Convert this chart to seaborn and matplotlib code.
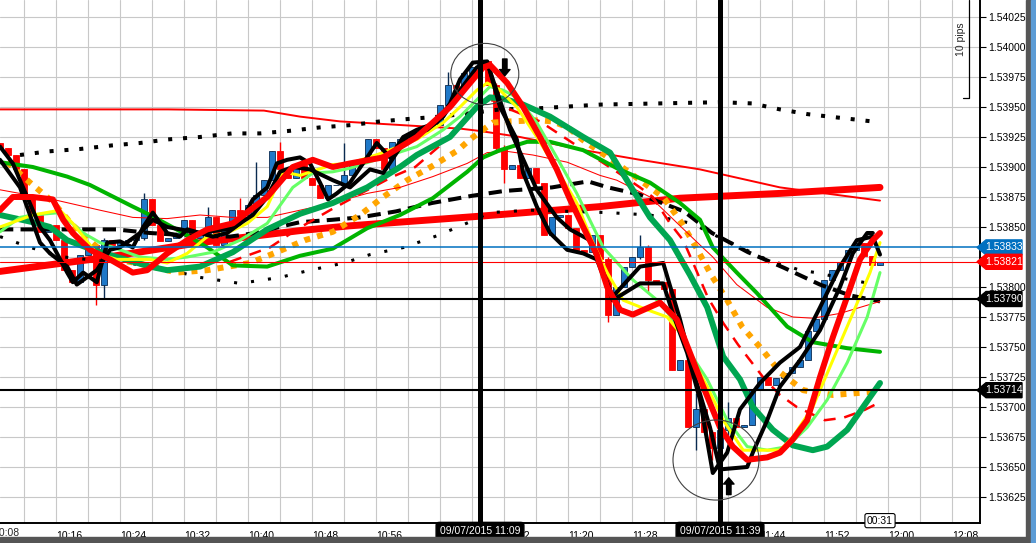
import numpy as np
import matplotlib
matplotlib.use("Agg")
import matplotlib.pyplot as plt
import seaborn as sns
from matplotlib.patches import Ellipse, Polygon, Rectangle

# time axis: minutes after 10:00, one candle per minute starting 10:09
first_bar = 9
first_open = 1.53920

close = [1.53916, 1.53910, 1.53898, 1.53873, 1.53860, 1.53846, 1.53852, 1.53839, 1.53814, 1.53804,
         1.53827, 1.53835, 1.53802, 1.53839, 1.53835, 1.53838, 1.53839, 1.53841, 1.53873, 1.53852,
         1.53838, 1.53841, 1.53845, 1.53856, 1.53841, 1.53845, 1.53858, 1.53835, 1.53849, 1.53864,
         1.53860, 1.53868, 1.53877, 1.53889, 1.53913, 1.53898, 1.53891, 1.53902, 1.53891, 1.53885,
         1.53874, 1.53885, 1.53885, 1.53893, 1.53902, 1.53906, 1.53923, 1.53916, 1.53898, 1.53921,
         1.53923, 1.53927, 1.53929, 1.53933, 1.53935, 1.53952, 1.53968, 1.53966, 1.53978, 1.53983,
         1.53988, 1.53968, 1.53916, 1.53898, 1.53902, 1.53891, 1.53899, 1.53887, 1.53843, 1.53858,
         1.53860, 1.53849, 1.53831, 1.53829, 1.53843, 1.53823, 1.53777, 1.53800, 1.53817, 1.53825,
         1.53833, 1.53806, 1.53804, 1.53798, 1.53731, 1.53739, 1.53683, 1.53698, 1.53679, 1.53666,
         1.53681, 1.53691, 1.53683, 1.53685, 1.53714, 1.53725, 1.53718, 1.53724, 1.53728, 1.53733,
         1.53739, 1.53763, 1.53773, 1.53806, 1.53814, 1.53821, 1.53831, 1.53837, 1.53826, 1.53818,
         1.53821]

# candles with visible wicks: bar index -> (high, low)
wicks = {12: (1.53837, 1.53785), 13: (1.53841, 1.53791), 18: (1.53878, 1.53839),
         26: (1.53867, 1.53843), 30: (1.53874, 1.53857), 32: (1.53904, 1.53866),
         35: (1.53921, 1.53896), 43: (1.53920, 1.53883), 56: (1.53979, 1.53950),
         62: (1.53970, 1.53912), 63: (1.53918, 1.53887), 76: (1.53825, 1.53771),
         80: (1.53843, 1.53823), 81: (1.53835, 1.53796), 87: (1.53712, 1.53664),
         89: (1.53681, 1.53656), 91: (1.53704, 1.53675)}

red_top_t = [9, 16.5, 30, 42, 46.5, 51.5, 59, 66.5, 69, 74, 82, 89, 96.5, 106.5, 119]
red_top_p = [1.53948, 1.53948, 1.53948, 1.53947, 1.53942, 1.53938, 1.53935, 1.53932, 1.53930,
             1.53925, 1.53914, 1.53906, 1.53898, 1.53883, 1.53872]

trend_t = [9, 21.5, 34, 46.5, 52.75, 69, 84, 94, 106.5, 119]
trend_p = [1.53813, 1.53824, 1.53837, 1.53847, 1.53851, 1.53859, 1.53867, 1.53874, 1.53878, 1.53883]

big_dot_t = [11.5, 15, 19, 23, 26.5, 30, 34, 38, 41.5, 45, 49, 53, 56.5, 60, 64, 68, 71.5, 76.5,
             84, 91.5, 99, 103, 106.5, 110, 114, 118]
big_dot_p = [1.53910, 1.53913, 1.53915, 1.53918, 1.53920, 1.53923, 1.53925, 1.53928, 1.53928,
             1.53930, 1.53933, 1.53935, 1.53938, 1.53940, 1.53942, 1.53945, 1.53948, 1.53949,
             1.53952, 1.53953, 1.53954, 1.53953, 1.53948, 1.53944, 1.53941, 1.53938]

dash_t = [9, 16.5, 23.5, 27.75, 32.5, 37.75, 41, 44.5, 46.5, 50.5, 54, 58.5, 63, 68, 72, 78,
          82.5, 85, 89, 94.5, 98, 102.5, 107, 111.5, 115.25, 119]
dash_p = [1.53848, 1.53848, 1.53848, 1.53845, 1.53843, 1.53842, 1.53845, 1.53851, 1.53854,
          1.53856, 1.53858, 1.53863, 1.53870, 1.53876, 1.53880, 1.53883, 1.53888, 1.53883,
          1.53877, 1.53863, 1.53845, 1.53829, 1.53816, 1.53802, 1.53793, 1.53788]

small_dot_t = [9, 12.75, 17, 24, 28, 34, 39, 44, 47.75, 52, 55.25, 59.5, 63.75, 68, 70.25,
               75.25, 85, 90.25, 95.5, 99, 104.5, 109, 111, 115.25, 118.5]
small_dot_p = [1.53842, 1.53833, 1.53825, 1.53820, 1.53818, 1.53808, 1.53803, 1.53808, 1.53814,
               1.53820, 1.53827, 1.53833, 1.53843, 1.53855, 1.53862, 1.53864, 1.53862, 1.53860,
               1.53853, 1.53841, 1.53824, 1.53814, 1.53812, 1.53806, 1.53802]

orange_t = [9.9, 12.75, 15.6, 18, 21.5, 23.6, 27.5, 31.1, 34.9, 40.25, 43.6, 47.1, 50.6, 54,
            56.9, 59.9, 63.1, 66.25, 67.75, 70.6, 72.75, 76.25, 78.1, 80, 81.75, 86.1, 89,
            91.9, 94.25, 96.1, 97.9, 99.9, 101.75, 104.25, 106.5, 109.4, 113.1, 116.9, 118.6]
orange_p = [1.53904, 1.53887, 1.53871, 1.53852, 1.53831, 1.53823, 1.53818, 1.53812, 1.53814,
            1.53820, 1.53829, 1.53839, 1.53846, 1.53860, 1.53875, 1.53889, 1.53901, 1.53914,
            1.53923, 1.53937, 1.53938, 1.53939, 1.53938, 1.53933, 1.53923, 1.53903, 1.53889,
            1.53875, 1.53853, 1.53832, 1.53810, 1.53789, 1.53767, 1.53748, 1.53729, 1.53714,
            1.53710, 1.53712, 1.53713]

rdash_t = [37.75, 40.25, 42.75, 46.1, 50.25, 54.4, 58.1, 60.9, 64.9, 67.4, 69, 70.9, 72.75,
           76.5, 81.5, 86.1, 89, 90.6, 92.75, 94.4, 95.9, 97.5, 99.4, 101.25, 102.75, 104.6,
           106.5, 108.6, 112.1, 114.4, 116.9, 119]
rdash_p = [1.53821, 1.53827, 1.53833, 1.53848, 1.53864, 1.53879, 1.53892, 1.53900, 1.53923,
           1.53942, 1.53953, 1.53956, 1.53948, 1.53938, 1.53916, 1.53896, 1.53883, 1.53875,
           1.53853, 1.53839, 1.53816, 1.53791, 1.53770, 1.53752, 1.53739, 1.53723, 1.53710,
           1.53700, 1.53689, 1.53691, 1.53697, 1.53704]

thin_t = [9, 15.6, 21.5, 25.6, 29.9, 34, 38.1, 42.4, 46.5, 50.6, 54.9, 59, 63.1, 67.4, 69.9,
          72.4, 75.6, 79.9, 84, 86.1, 90.25, 94, 96.5, 98.1, 101.1, 104.9, 108.1, 110.6, 114, 119]
thin_p = [1.53881, 1.53873, 1.53864, 1.53858, 1.53857, 1.53860, 1.53858, 1.53858, 1.53864,
          1.53870, 1.53878, 1.53883, 1.53892, 1.53903, 1.53912, 1.53913, 1.53910, 1.53904,
          1.53893, 1.53889, 1.53875, 1.53851, 1.53835, 1.53825, 1.53802, 1.53783, 1.53775,
          1.53774, 1.53778, 1.53788]

green_t = [9, 13.1, 17.4, 20.25, 25.6, 27.75, 31.9, 34.9, 38.1, 42.4, 46.5, 50.6, 54.9, 59,
           63.1, 67.4, 69.4, 71.5, 74.9, 77.75, 81.9, 86.1, 90.25, 94, 96.5, 98.1, 101.1,
           103.6, 107.4, 110.6, 114.9, 119]
green_p = [1.53904, 1.53900, 1.53892, 1.53885, 1.53867, 1.53860, 1.53845, 1.53833, 1.53818,
           1.53817, 1.53826, 1.53832, 1.53849, 1.53860, 1.53874, 1.53896, 1.53908, 1.53914,
           1.53921, 1.53921, 1.53914, 1.53899, 1.53887, 1.53870, 1.53856, 1.53833, 1.53812,
           1.53795, 1.53767, 1.53754, 1.53749, 1.53746]

dkgreen_t = [9, 13.1, 15.25, 17.4, 20.6, 23.6, 27.75, 29.9, 34, 38.1, 42.4, 46.5, 50.6, 54.9,
             59, 61.1, 65.25, 68.6, 70.25, 71.9, 74.4, 77.75, 81.9, 85.25, 88.1, 90.25, 92.75,
             95.25, 97.4, 99.4, 101.5, 103.1, 105.6, 108.1, 110.6, 112.4, 114.9, 117.1, 119]
dkgreen_p = [1.53860, 1.53854, 1.53850, 1.53839, 1.53831, 1.53825, 1.53817, 1.53814, 1.53817,
             1.53829, 1.53848, 1.53861, 1.53870, 1.53883, 1.53900, 1.53910, 1.53925, 1.53950,
             1.53958, 1.53957, 1.53952, 1.53942, 1.53925, 1.53912, 1.53881, 1.53858, 1.53839,
             1.53810, 1.53783, 1.53742, 1.53723, 1.53700, 1.53681, 1.53668, 1.53664, 1.53667,
             1.53681, 1.53702, 1.53720]

ltgreen_t = [9, 11.5, 13.1, 16.5, 19.4, 21.5, 26.5, 29.9, 32.4, 35.6, 39, 42.4, 45.6, 48.1,
             50.6, 52.75, 56.9, 61.1, 64.4, 66.5, 68.6, 70.25, 71.9, 73.6, 76.1, 78.6, 81.1,
             84.4, 88.1, 91.5, 93.1, 95.25, 97.4, 99.9, 102.4, 104.9, 107.4, 109.9, 112.4,
             114.9, 117.4, 119]
ltgreen_p = [1.53846, 1.53858, 1.53860, 1.53862, 1.53845, 1.53837, 1.53825, 1.53823, 1.53825,
             1.53829, 1.53839, 1.53853, 1.53883, 1.53895, 1.53896, 1.53899, 1.53908, 1.53917,
             1.53931, 1.53942, 1.53956, 1.53967, 1.53964, 1.53958, 1.53937, 1.53908, 1.53878,
             1.53833, 1.53806, 1.53787, 1.53773, 1.53745, 1.53723, 1.53689, 1.53667, 1.53664,
             1.53667, 1.53683, 1.53706, 1.53737, 1.53775, 1.53812]

yellow_t = [9, 13.1, 16.5, 18.1, 21.1, 23.6, 27.75, 29.9, 32.4, 34.9, 37.4, 39.9, 42.4, 44.4,
            46.5, 50.6, 52.75, 56.9, 61.1, 64.4, 66.5, 68.6, 69.9, 71.5, 73.6, 76.1, 78.6,
            81.1, 83.1, 84.9, 86.9, 89.9, 92.4, 94, 95.6, 97.4, 99.4, 101.9, 106.5, 108.1,
            110.6, 113.1, 115.6, 117.75, 119]
yellow_p = [1.53850, 1.53860, 1.53864, 1.53853, 1.53828, 1.53823, 1.53823, 1.53820, 1.53828,
            1.53842, 1.53845, 1.53853, 1.53867, 1.53896, 1.53893, 1.53902, 1.53903, 1.53912,
            1.53923, 1.53937, 1.53950, 1.53964, 1.53970, 1.53964, 1.53950, 1.53925, 1.53898,
            1.53870, 1.53837, 1.53812, 1.53789, 1.53781, 1.53775, 1.53762, 1.53739, 1.53717,
            1.53689, 1.53664, 1.53664, 1.53675, 1.53700, 1.53739, 1.53778, 1.53812, 1.53837]

redfast_t = [9, 10.6, 13.1, 15.6, 16.9, 18.1, 20.25, 22.75, 25.6, 27.4, 29.9, 32.4, 34.9,
             38.1, 42.4, 45.6, 48.1, 50.6, 52.75, 56.9, 61.1, 65.25, 67.75, 69.4, 70.25, 72.4,
             74.4, 76.5, 78.6, 80.25, 81.9, 83.6, 84.9, 86.5, 88.1, 91.5, 93.6, 95.25, 96.9,
             99, 100.6, 102.4, 104.9, 106.5, 108.1, 109.9, 111.5, 113.1, 114.9, 116.5, 118.1, 119]
redfast_p = [1.53864, 1.53875, 1.53875, 1.53873, 1.53856, 1.53845, 1.53831, 1.53823, 1.53812,
             1.53814, 1.53828, 1.53839, 1.53848, 1.53853, 1.53875, 1.53900, 1.53906, 1.53900,
             1.53903, 1.53908, 1.53925, 1.53950, 1.53970, 1.53983, 1.53985, 1.53970, 1.53950,
             1.53925, 1.53898, 1.53873, 1.53850, 1.53827, 1.53800, 1.53781, 1.53777, 1.53787,
             1.53773, 1.53745, 1.53717, 1.53683, 1.53667, 1.53656, 1.53658, 1.53662, 1.53673,
             1.53689, 1.53725, 1.53758, 1.53792, 1.53823, 1.53839, 1.53845]

blackA_t = [9, 10.6, 12.4, 14, 15.25, 17.4, 18.1, 19.4, 21.1, 22.4, 24, 25.6, 26.9, 28.1, 29.9,
            31.5, 32.4, 34, 35.6, 37.4, 39, 40.6, 42.4, 43.6, 44.9, 46.5, 47.75, 49, 50, 51.1,
            52.75, 56.1, 57.75, 59.4, 61.1, 63.6, 65.25, 66.5, 68.1, 69.9, 71.5, 73.6, 74.4,
            76.1, 77.75, 79.9, 81.9, 83.6, 85.6, 89, 91.9, 93.1, 94.9, 96.5, 98.1, 99.9, 101.5,
            104, 106.5, 109, 111.5, 114, 116.1, 118.1, 119]
blackA_p = [1.53917, 1.53903, 1.53875, 1.53850, 1.53839, 1.53812, 1.53804, 1.53812, 1.53804,
            1.53837, 1.53838, 1.53833, 1.53850, 1.53862, 1.53845, 1.53842, 1.53848, 1.53845,
            1.53842, 1.53845, 1.53853, 1.53873, 1.53883, 1.53903, 1.53906, 1.53908, 1.53903,
            1.53887, 1.53873, 1.53878, 1.53887, 1.53920, 1.53908, 1.53925, 1.53931, 1.53937,
            1.53953, 1.53973, 1.53987, 1.53988, 1.53950, 1.53923, 1.53895, 1.53867, 1.53845,
            1.53831, 1.53828, 1.53823, 1.53789, 1.53803, 1.53803, 1.53778, 1.53745, 1.53706,
            1.53645, 1.53662, 1.53698, 1.53720, 1.53737, 1.53750, 1.53783, 1.53817, 1.53839,
            1.53842, 1.53827]

blackB_t = [9, 11.5, 14, 15.25, 17.4, 18.6, 21.1, 22.75, 24, 26.5, 28.1, 29.9, 34, 38.1, 40.6,
            42.4, 44, 45.6, 47.75, 50.6, 52.75, 55.25, 56.9, 59.9, 62.4, 64.4, 66.5, 68.6, 69.9,
            70.6, 72.75, 76.1, 78.6, 80.25, 82.75, 85.6, 89, 91.9, 94, 95.6, 97.75, 99, 102.4,
            103.1, 104.9, 106.5, 109, 111.5, 114, 115.6, 117.4, 118.1]
blackB_p = [1.53906, 1.53883, 1.53837, 1.53828, 1.53817, 1.53802, 1.53814, 1.53831, 1.53833,
            1.53845, 1.53856, 1.53850, 1.53845, 1.53849, 1.53860, 1.53875, 1.53896, 1.53900,
            1.53898, 1.53889, 1.53883, 1.53898, 1.53895, 1.53925, 1.53931, 1.53942, 1.53964,
            1.53983, 1.53987, 1.53973, 1.53931, 1.53881, 1.53858, 1.53848, 1.53839, 1.53792,
            1.53817, 1.53820, 1.53773, 1.53731, 1.53683, 1.53648, 1.53650, 1.53662, 1.53689,
            1.53717, 1.53739, 1.53764, 1.53800, 1.53828, 1.53845, 1.53845]

# horizontal price levels and their tags
level_prices = [1.53833, 1.53821, 1.53790, 1.53714]
level_colors = ["#0070C0", "#FF0000", "black", "black"]
level_widths = [1.1, 0.8, 1.5, 1.5]

# marked bars (vertical lines)
marker_t = [69, 99]
marker_labels = ["09/07/2015 11:09", "09/07/2015 11:39"]

# 11:04 and 11:36 sit fully under the date tags, so they are not labelled
xtick_t = [16, 24, 32, 40, 48, 56, 72, 80, 88, 104, 112, 120, 128]
xtick_lbl = ["10:16", "10:24", "10:32", "10:40", "10:48", "10:56", "11:12", "11:20",
             "11:28", "11:44", "11:52", "12:00", "12:08"]
ytick_p = [1.53625, 1.53650, 1.53675, 1.53700, 1.53725, 1.53750, 1.53775, 1.53800, 1.53825,
           1.53850, 1.53875, 1.53900, 1.53925, 1.53950, 1.53975, 1.54000, 1.54025]

sns.set_style("white")
plt.rcParams['font.family'] = ['Liberation Sans', 'DejaVu Sans']

fig = plt.figure(figsize=(10.36, 5.43), dpi=100)
ax = fig.add_axes([0, 20 / 543, 980 / 1036, 523 / 543])
ax.set_xlim(9, 131.5)
ax.set_ylim(1.5360333, 1.5403917)

# candles
n = len(close)
bar_t = np.arange(first_bar, first_bar + n)
opens = [first_open] + close[:-1]
highs = [wicks[i][0] if i in wicks else max(opens[i], close[i]) for i in range(n)]
lows = [wicks[i][1] if i in wicks else min(opens[i], close[i]) for i in range(n)]
up = [close[i] >= opens[i] for i in range(n)]
body_col = ["#1F78C8" if u else "#FF0000" for u in up]
edge_col = ["#0A2A50" if u else "#FF0000" for u in up]
ax.vlines(bar_t, lows, highs, colors=edge_col, lw=1, zorder=1.9)
ax.bar(bar_t, [abs(close[i] - opens[i]) for i in range(n)],
       bottom=[min(close[i], opens[i]) for i in range(n)], width=0.65,
       color=body_col, edgecolor=edge_col, linewidth=0.6, zorder=2)


def draw(t, p, z, **kw):
    sns.lineplot(x=t, y=p, ax=ax, estimator=None, sort=False, legend=False, zorder=z, **kw)


draw(red_top_t, red_top_p, 3.0, color="#FF0000", linewidth=1.4)
draw(trend_t, trend_p, 3.05, color="#FF0000", linewidth=5)
draw(big_dot_t, big_dot_p, 3.1, color="black", linewidth=2.9, linestyle=(0, (1, 2.7)))
draw(dash_t, dash_p, 3.15, color="black", linewidth=2.9, linestyle=(0, (3.3, 1.8)))
draw(small_dot_t, small_dot_p, 3.2, color="black", linewidth=2.2, linestyle=(0, (1, 4.6)))
draw(orange_t, orange_p, 3.25, color="#FFA500", linewidth=4.3, linestyle=(0, (1, 1.2)))
draw(thin_t, thin_p, 3.3, color="#FF0000", linewidth=0.75)
draw(rdash_t, rdash_p, 3.35, color="#FF0000", linewidth=1.8, linestyle=(0, (4.8, 3.5)))
draw(green_t, green_p, 3.4, color="#00B400", linewidth=2.9)
draw(dkgreen_t, dkgreen_p, 3.45, color="#00A651", linewidth=4.3)
draw(ltgreen_t, ltgreen_p, 3.5, color="#66FF66", linewidth=2.2)
draw(yellow_t, yellow_p, 3.55, color="#FFFF00", linewidth=2.2)
draw(blackB_t, blackB_p, 3.6, color="black", linewidth=2.9)
draw(blackA_t, blackA_p, 3.65, color="black", linewidth=2.9)
draw(redfast_t, redfast_p, 3.7, color="#FF0000", linewidth=4.3)

for p, c, w in zip(level_prices, level_colors, level_widths):
    ax.axhline(p, color=c, lw=w, zorder=5)
for t in marker_t:
    ax.axvline(t, color="black", lw=3.6, zorder=6)

# circles and arrows
ax.add_patch(Ellipse((69.6, 1.539775), 8.5, 0.00051, fill=False, ec="#404040", lw=0.8, zorder=7))
ax.add_patch(Ellipse((98.5, 1.536558), 10.75, 0.000667, fill=False, ec="#404040", lw=0.8, zorder=7))
arrow_kw = dict(arrowstyle="simple,head_width=0.75,head_length=0.45,tail_width=0.32",
                fc="black", ec="black", shrinkA=0, shrinkB=0)
ax.annotate("", xy=(72.1, 1.53976), xytext=(72.1, 1.53990), arrowprops=arrow_kw, zorder=7)
ax.annotate("", xy=(100.1, 1.53641), xytext=(100.1, 1.53627), arrowprops=arrow_kw, zorder=7)

# grid and axes
ax.set_xticks(xtick_t)
ax.set_xticklabels(xtick_lbl, ha="left")
ax.set_xticks(np.arange(12, 132, 4), minor=True)
ax.set_yticks(ytick_p)
ax.set_yticklabels(["" if abs(p - 1.53825) < 1e-7 else f"{p:.5f}" for p in ytick_p])
ax.yaxis.tick_right()
ax.grid(True, which="both", axis="x", color="#C8C8C8", lw=0.8)
ax.grid(True, which="major", axis="y", color="#C8C8C8", lw=0.8)
ax.set_axisbelow(True)
ax.tick_params(axis="x", which="major", direction="out", length=4, width=0.8, pad=2,
               labelsize=7.5, colors="black")
ax.tick_params(axis="x", which="minor", length=0)
ax.tick_params(axis="y", which="major", direction="out", length=4, width=0.8, pad=2,
               labelsize=7.5, colors="black", right=True, left=False)
for s in ["left", "top"]:
    ax.spines[s].set_visible(False)
for s in ["right", "bottom"]:
    ax.spines[s].set_color("black")
    ax.spines[s].set_linewidth(1.4)
ax.set_xlabel("")
ax.set_ylabel("")
ax.text(8.1, -0.0096, "10:08", transform=ax.get_xaxis_transform(), ha="left", va="top",
        fontsize=7.5, clip_on=False)

# price tags on the right axis
ytr = ax.get_yaxis_transform()
h = 7.5 / 120000
for p, c in zip(level_prices, level_colors):
    ax.add_patch(Polygon([(977 / 980, p), (986 / 980, p + h), (1022 / 980, p + h),
                          (1022 / 980, p - h), (986 / 980, p - h)], closed=True,
                         fc=c, ec=c, transform=ytr, clip_on=False, zorder=10))
    ax.text(1004 / 980, p, f"{p:.5f}", transform=ytr, color="white", ha="center",
            va="center", fontsize=7.5, zorder=11, clip_on=False)

# date tags on the time axis
xtr = ax.get_xaxis_transform()
for t, lbl in zip(marker_t, marker_labels):
    ax.text(t, -0.0153, lbl, transform=xtr, color="white", ha="center", va="center",
            fontsize=7.5, zorder=12, clip_on=False,
            bbox=dict(boxstyle="round,pad=0.35,rounding_size=0.3", fc="black", ec="black"))
ax.text(119, 0.0045, "00:31", transform=xtr, color="black", ha="center", va="center",
        fontsize=7.5, zorder=12, clip_on=False,
        bbox=dict(boxstyle="round,pad=0.2,rounding_size=0.2", fc="white", ec="black", lw=0.8))

# 10 pips ruler
ax.plot([969 / 980, 969 / 980, 963 / 980], [1.0, 1 - 98 / 523, 1 - 98 / 523],
        transform=ax.transAxes, color="black", lw=0.9, clip_on=False, zorder=8)
ax.text(961 / 980, 1 - 39 / 523, "10 pips", transform=ax.transAxes, rotation=90,
        ha="center", va="center", fontsize=7.5, zorder=8)

# window frame
fig.patches.append(Rectangle((0, 0), 1026 / 1036, 6 / 543, transform=fig.transFigure,
                             color="#555555", zorder=0))
fig.patches.append(Rectangle((1026 / 1036, 0), 5 / 1036, 1, transform=fig.transFigure,
                             color="#555555", zorder=0))
fig.patches.append(Rectangle((1031 / 1036, 0), 5 / 1036, 1, transform=fig.transFigure,
                             color="#5B9BD5", zorder=0))

fig.savefig("out.png", dpi=100)
